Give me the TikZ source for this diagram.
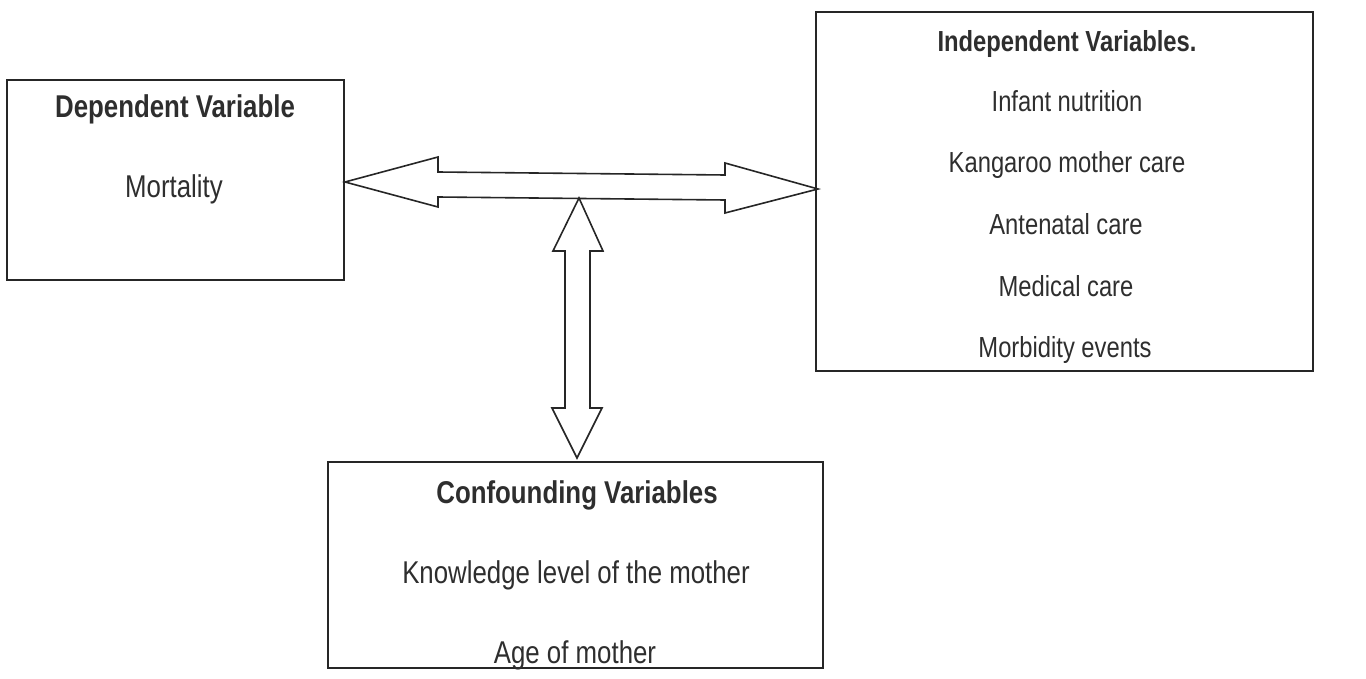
\documentclass[tikz,border=0pt]{standalone}
\usepackage{fontspec}
\setmainfont{Liberation Sans}[FakeStretch=0.82]
\begin{document}
\begin{tikzpicture}[x=1pt,y=-1pt,
  ink/.style={draw=black!85, line width=1.6pt},
  box/.style={ink, rectangle, inner sep=0pt, outer sep=0pt},
  lbl/.style={anchor=base, inner sep=0pt, text=black!82, font=\fontsize{29}{34}\selectfont},
  hdr/.style={lbl, font=\fontsize{29}{34}\selectfont\bfseries},
  lblL/.style={lbl, font=\fontsize{31.5}{36}\selectfont},
  hdrL/.style={lbl, font=\fontsize{31.5}{36}\selectfont\bfseries},
  fatarrow/.style={ink, line join=miter, fill=white}]
\useasboundingbox (0,0) rectangle (1366,679);
% boxes
\node[box, minimum width=337pt, minimum height=200pt] (dep) at (175.5,180) {};
\node[box, minimum width=497pt, minimum height=359pt] (ind) at (1064.5,191.5) {};
\node[box, minimum width=495pt, minimum height=206pt] (con) at (575.5,565) {};
% texts
\node[hdrL] (depH) at (175,118) {Dependent Variable};
\node[lblL] (depA) at (174,198) {Mortality};
\node[hdr] (indH) at (1067,52) {Independent Variables.};
\node[lbl] (indA) at (1067,112) {Infant nutrition};
\node[lbl] (indB) at (1067,173) {Kangaroo mother care};
\node[lbl] (indC) at (1066,235) {Antenatal care};
\node[lbl] (indD) at (1066,297) {Medical care};
\node[lbl] (indE) at (1065,357) {Morbidity events};
\node[hdrL] (conH) at (577,503) {Confounding Variables};
\node[lblL] (conA) at (576,583) {Knowledge level of the mother};
\node[lblL] (conB) at (575,663) {Age of mother};
% horizontal double arrow
\coordinate (hl) at (345,182);
\coordinate (hr) at (818,189);
\draw[fatarrow] (hl) -- (438,157) -- (438,172) -- (725,175) -- (725,163) -- (hr)
  -- (725,213) -- (725,200) -- (438,197) -- (438,207) -- cycle;
% vertical double arrow
\coordinate (vt) at (579,198);
\coordinate (vb) at (577,458);
\draw[fatarrow] (vt) -- (603,251) -- (590,251) -- (590,408) -- (602,408) -- (vb)
  -- (552,408) -- (565,408) -- (565,251) -- (553,251) -- cycle;
\end{tikzpicture}
\end{document}
